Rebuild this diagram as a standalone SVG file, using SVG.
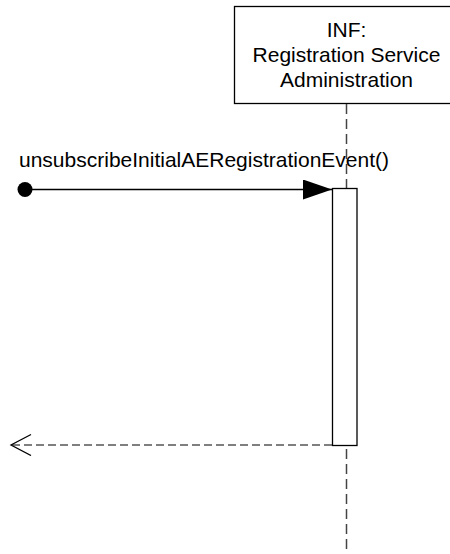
<svg xmlns="http://www.w3.org/2000/svg" width="450" height="554" viewBox="0 0 450 554">
<style>
text{font-family:"Liberation Sans",Arial,sans-serif;font-size:21px;fill:#000}
.box{fill:#fff;stroke:#000;stroke-width:1.3}
.life{stroke:#444;stroke-width:1.5;stroke-dasharray:10 5;fill:none}
.msg{stroke:#000;stroke-width:1.3;fill:none}
.ret{stroke:#555;stroke-width:1.5;stroke-dasharray:8 4;fill:none}
</style>
<defs>
<marker id="filled" markerWidth="30" markerHeight="20" refX="29" refY="10" orient="auto" markerUnits="userSpaceOnUse">
<path d="M0,0 L29,10 L0,20 Z" fill="#000"/>
</marker>
<marker id="open" markerWidth="24" markerHeight="24" refX="21" refY="11" orient="auto" markerUnits="userSpaceOnUse">
<path d="M1,0.5 L21,11 L1,21.5" fill="none" stroke="#000" stroke-width="1.3"/>
</marker>
</defs>
<g id="lifeline-inf">
<rect class="box" x="234.5" y="6.5" width="224" height="97"/>
<text x="346.5" y="37" text-anchor="middle">INF:</text>
<text x="346.5" y="62" text-anchor="middle">Registration Service</text>
<text x="346.5" y="87" text-anchor="middle">Administration</text>
</g>
<g id="connectors">
<line class="life" x1="346.5" y1="104" x2="346.5" y2="554"/>
<line class="msg" x1="25" y1="189.5" x2="332" y2="189.5" marker-end="url(#filled)"/>
<circle cx="25" cy="189.5" r="7.5" fill="#000"/>
<line class="ret" x1="332" y1="445" x2="11" y2="445" marker-end="url(#open)"/>
</g>
<g id="activation">
<rect class="box" x="332.5" y="188.5" width="24.5" height="257"/>
</g>
<g id="label">
<text x="19" y="166.5">unsubscribeInitialAERegistrationEvent()</text>
</g>
</svg>
